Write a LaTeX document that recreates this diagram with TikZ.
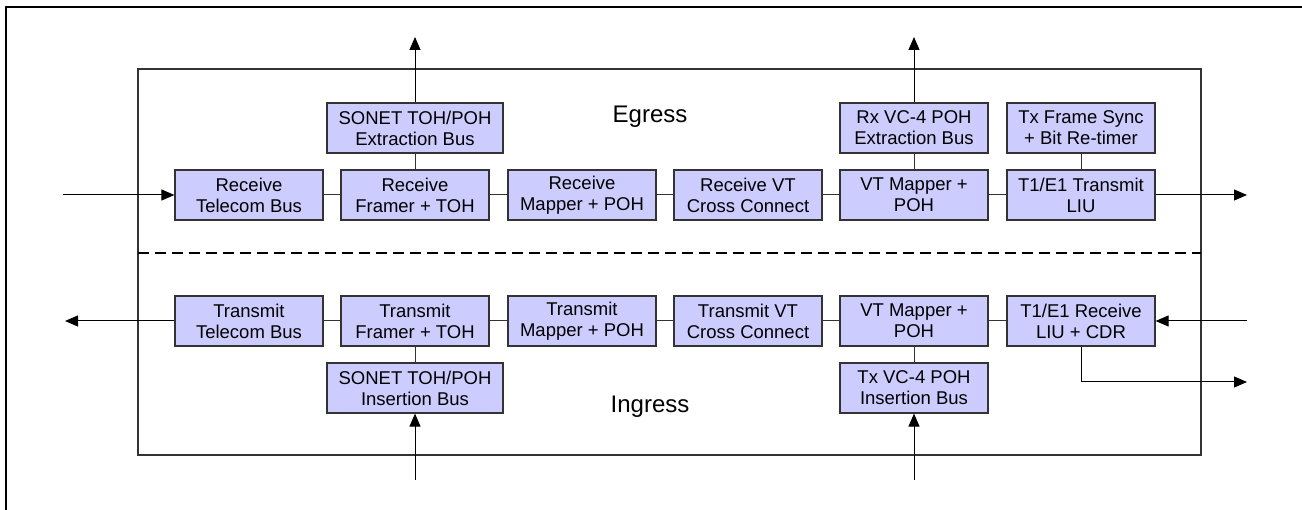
\documentclass[tikz,border=0pt]{standalone}
\usepackage{fontspec}
\setmainfont{Liberation Sans}
\usetikzlibrary{arrows.meta}
\definecolor{blkfill}{RGB}{204,204,255}
\definecolor{blkline}{RGB}{51,51,51}
\begin{document}
\begin{tikzpicture}[x=1pt,y=-1pt,
blk/.style = {draw=blkline,line width=1.2pt,fill=blkfill,minimum width=148pt,minimum height=50pt,
  inner sep=0pt,align=center,font=\fontsize{18.5}{21}\selectfont},
wide/.style = {blk,minimum width=176pt},
lnk/.style = {draw,line width=1pt,blkline},
arr/.style = {draw,line width=1pt,-{Triangle[length=13pt,width=11pt]}},
lbl/.style = {font=\fontsize{24}{28}\selectfont}
]
  \useasboundingbox (0,0) rectangle (1302,510);
  % frame
  \draw[line width=2.5pt] (1302,7) -- (6,7) -- (6,510);
  \draw[line width=1.3pt,blkline] (138,69) rectangle (1201,455);
  \draw[dashed,line width=2pt,dash pattern=on 11pt off 6pt] (138,253) -- (1201,253);

  \node[lbl] (eg) at (650,117) {Egress};
  \node[lbl] (ing) at (650,407) {Ingress};

  % egress path
  \node[blk] (rtb) at (249,195) {Receive\\Telecom Bus};
  \node[blk] (rfr) at (415,195) {Receive\\Framer + TOH};
  \node[blk] (rmp) at (582,195) {Receive\\Mapper + POH};
  \node[blk] (rvt) at (748,195) {Receive VT\\Cross Connect};
  \node[blk] (evt) at (914,195) {VT Mapper +\\POH};
  \node[blk] (tliu) at (1081,195) {T1/E1 Transmit\\LIU};
  \node[wide] (tohx) at (415,128) {SONET TOH/POH\\Extraction Bus};
  \node[blk] (vcx) at (914,128) {Rx VC-4 POH\\Extraction Bus};
  \node[blk] (fsync) at (1081,128) {Tx Frame Sync\\+ Bit Re-timer};

  % ingress path
  \node[blk] (ttb) at (249,321) {Transmit\\Telecom Bus};
  \node[blk] (tfr) at (415,321) {Transmit\\Framer + TOH};
  \node[blk] (tmp) at (582,321) {Transmit\\Mapper + POH};
  \node[blk] (tvt) at (748,321) {Transmit VT\\Cross Connect};
  \node[blk] (ivt) at (914,321) {VT Mapper +\\POH};
  \node[blk] (rliu) at (1081,321) {T1/E1 Receive\\LIU + CDR};
  \node[wide] (tohi) at (415,388) {SONET TOH/POH\\Insertion Bus};
  \node[blk] (vci) at (914,388) {Tx VC-4 POH\\Insertion Bus};

  \coordinate (inl) at (63,195);
  \coordinate (outr) at (1247,195);
  \coordinate (outl) at (65,321);
  \coordinate (inr) at (1247,321);
  \coordinate (cdr) at (1247,382);
  \coordinate (tohup) at (415,37);
  \coordinate (vcup) at (914,37);
  \coordinate (tohdn) at (415,480);
  \coordinate (vcdn) at (914,480);

  \path[lnk] (rtb)--(rfr);
  \path[lnk] (rfr)--(rmp);
  \path[lnk] (rmp)--(rvt);
  \path[lnk] (rvt)--(evt);
  \path[lnk] (evt)--(tliu);
  \path[lnk] (rfr)--(tohx);
  \path[lnk] (evt)--(vcx);
  \path[lnk] (tliu)--(fsync);
  \path[lnk] (ttb)--(tfr);
  \path[lnk] (tfr)--(tmp);
  \path[lnk] (tmp)--(tvt);
  \path[lnk] (tvt)--(ivt);
  \path[lnk] (ivt)--(rliu);
  \path[lnk] (tfr)--(tohi);
  \path[lnk] (ivt)--(vci);

  \path[arr] (inl)--(rtb);
  \path[arr] (tliu)--(outr);
  \path[arr] (tohx)--(tohup);
  \path[arr] (vcx)--(vcup);
  \path[arr] (ttb)--(outl);
  \path[arr] (inr)--(rliu);
  \path[arr] (rliu.south) |- (cdr);
  \path[arr] (tohdn)--(tohi);
  \path[arr] (vcdn)--(vci);
\end{tikzpicture}
\end{document}
